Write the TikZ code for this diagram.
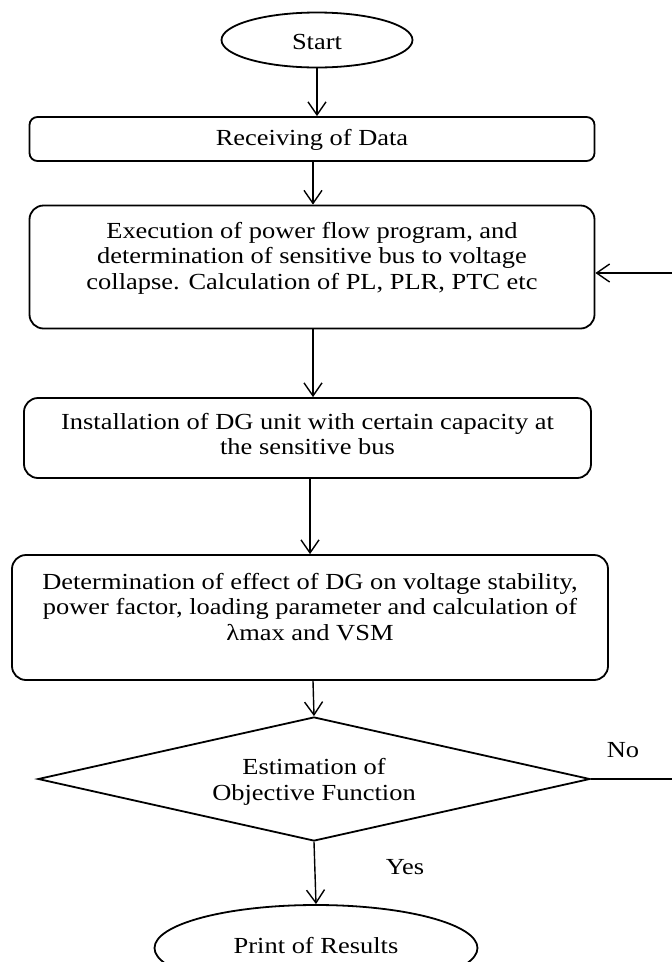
\documentclass[tikz,border=0pt]{standalone}
\usepackage{fontspec}
\setmainfont[FakeStretch=1.15]{Liberation Serif}
\usetikzlibrary{shapes.geometric,arrows.meta}
\begin{document}
\begin{tikzpicture}[x=1pt,y=-1pt,
  box/.style={draw, line width=1.8pt, rounded corners=14pt, inner sep=0pt},
  oval/.style={draw, ellipse, line width=1.8pt, inner sep=0pt},
  txt/.style={font=\fontsize{23}{25.5}\selectfont, align=center, inner sep=0pt},
  arr/.style={line width=1.4pt, -{Straight Barb[length=13pt,width=18pt,line width=1.4pt]}}]
\useasboundingbox (0,0) rectangle (672,962);

\node[oval, minimum width=191pt, minimum height=55pt] (start) at (317,40) {};
\node[txt] (startT) at (317,42) {Start};

\node[box, rounded corners=8pt, minimum width=565pt, minimum height=44pt] (recv) at (312,139) {};
\node[txt] (recvT) at (312,140) {Receiving of Data};

\node[box, minimum width=565pt, minimum height=123pt] (exec) at (312,267) {};
\node[txt] (execT) at (312,258) {Execution of power flow program, and\\determination of sensitive bus to voltage\\collapse. Calculation of PL, PLR, PTC etc};

\node[box, minimum width=567pt, minimum height=80pt] (inst) at (307.5,438) {};
\node[txt] (instT) at (307.5,434) {Installation of DG unit with certain capacity at\\the sensitive bus};

\node[box, minimum width=596pt, minimum height=125pt] (det) at (310,617.5) {};
\node[txt] (detT) at (310,607) {Determination of effect of DG on voltage stability,\\power factor, loading parameter and calculation of\\λmax and VSM};

\node[draw, diamond, line width=1.8pt, inner sep=0pt, minimum width=552pt, minimum height=124pt] (dec) at (314,779) {};
\node[txt] (decT) at (314,782) {Estimation of\\Objective Function};

\node[oval, minimum width=323pt, minimum height=86pt] (print) at (316,948) {};
\node[txt] (printT) at (316,946) {Print of Results};

\node[txt] (yes) at (405,867) {Yes};
\node[txt] (no) at (623,750) {No};

\draw[arr] (start.south) -- (start.south |- recv.north);
\draw[arr] (313,0 |- recv.south) -- (313,0 |- exec.north);
\draw[arr] (313,0 |- exec.south) -- (313,0 |- inst.north);
\draw[arr] (310,0 |- inst.south) -- (310,0 |- det.north);
\draw[arr] (313,0 |- det.south) -- (dec.north);
\draw[arr] (dec.south) -- (print.north);
\draw[arr] (dec.east) -- ++(120,0) |- ([yshift=-6pt]exec.east);
\end{tikzpicture}
\end{document}
